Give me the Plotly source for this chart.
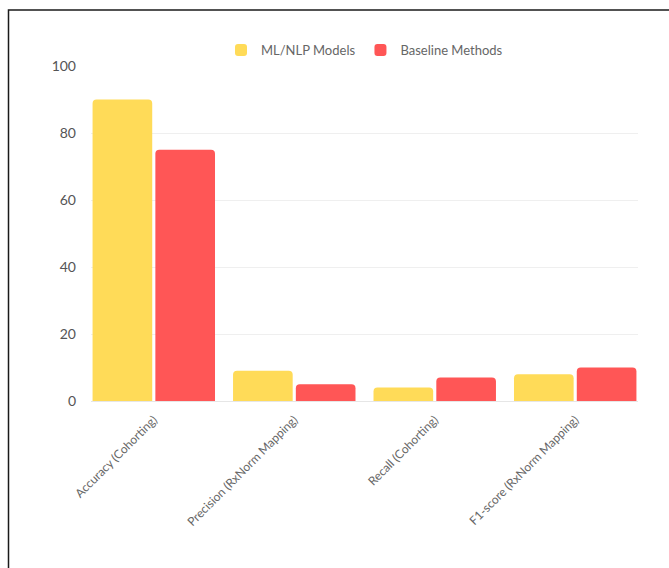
import plotly.graph_objects as go

categories = ["Accuracy (Cohorting)", "Precision (RxNorm Mapping)", "Recall (Cohorting)", "F1-score (RxNorm Mapping)"]
ml_nlp = [90, 9, 4, 8]
baseline = [75, 5, 7, 10]
series_names = ["ML/NLP Models", "Baseline Methods"]
y_ticks = [0, 20, 40, 60, 80, 100]

FONT = "Lato, 'Open Sans', sans-serif"
YELLOW = "#FFDB58"
RED = "#FF5656"

fig = go.Figure()
fig.add_trace(go.Bar(x=categories, y=ml_nlp, name=series_names[0],
                     marker=dict(color=YELLOW, cornerradius=4, line=dict(width=0))))
fig.add_trace(go.Bar(x=categories, y=baseline, name=series_names[1],
                     marker=dict(color=RED, cornerradius=4, line=dict(width=0))))

L, T, R, B = 91, 66, 31, 167
W, H = 669, 568
pw, ph = W - L - R, H - T - B

GAP = 0.106
fig.add_shape(type="rect", xref="paper", yref="paper",
              x0=(8.5 - L) / pw, x1=1.2, y0=-0.7, y1=1 + (T - 10) / ph,
              line=dict(color="#1a1a1a", width=1.5), fillcolor="rgba(0,0,0,0)", layer="below")

fig.update_layout(
    width=W, height=H,
    margin=dict(l=L, r=R, t=T, b=B),
    paper_bgcolor="white", plot_bgcolor="white",
    barmode="group", bargap=GAP, bargroupgap=0.05,
    font=dict(family=FONT, size=13, color="#666666"),
    showlegend=True,
    legend=dict(orientation="h", x=0.5, xanchor="center", y=1 + (T - 50) / ph, yanchor="middle",
                font=dict(size=13, color="#666666"), itemwidth=30, bgcolor="rgba(0,0,0,0)"),
    xaxis=dict(range=[-0.5 + GAP / 2, len(categories) - 0.5 - GAP / 2],
               tickangle=-45, showgrid=False, showline=True, linecolor="#e6e6e6", linewidth=1,
               ticks="", tickfont=dict(size=12, color="#666666"), ticklabelstandoff=6),
    yaxis=dict(range=[0, 100], tickvals=y_ticks, showgrid=True, gridcolor="#efefef", gridwidth=1,
               zeroline=False, showline=False, ticks="", tickfont=dict(size=14, color="#555555"),
               ticklabelstandoff=14),
)

fig.write_html("out.html")
